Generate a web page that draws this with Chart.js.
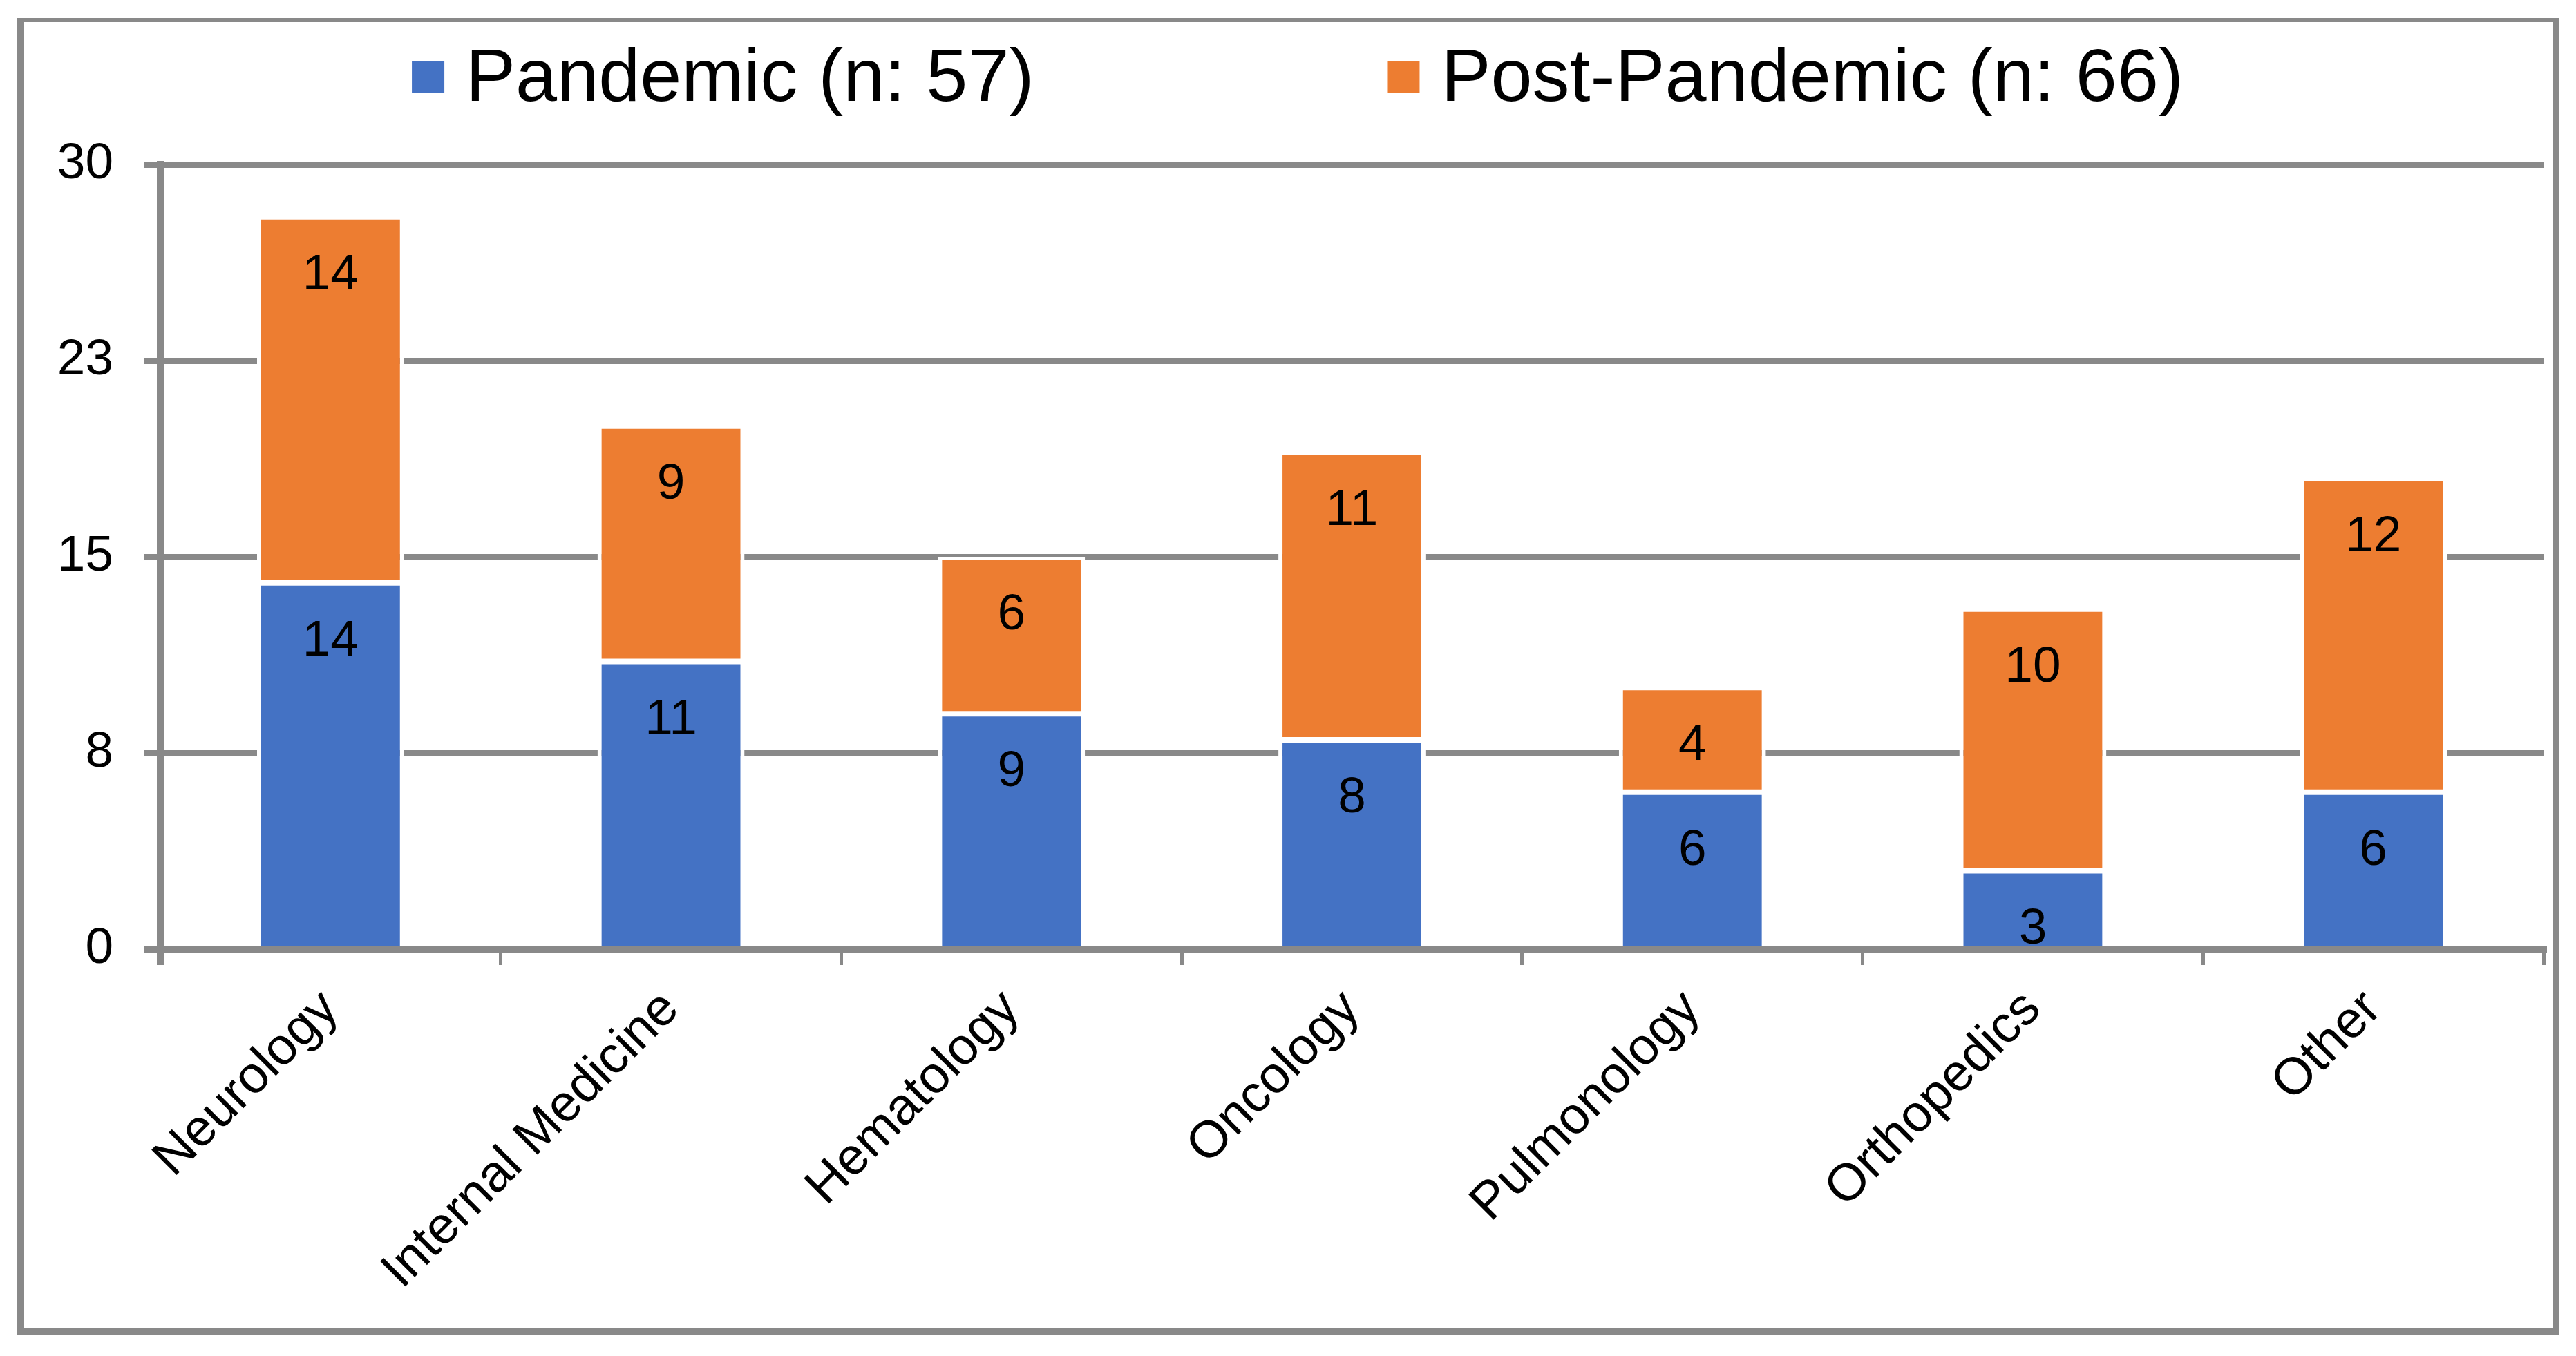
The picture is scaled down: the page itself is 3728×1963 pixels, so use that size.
<!DOCTYPE html>
<html>
<head>
<meta charset="utf-8">
<script src="https://cdn.jsdelivr.net/npm/chart.js@4"></script>
<style>
  body { margin: 0; background: #fff; }
  canvas { display: block; }
</style>
</head>
<body>
<canvas id="chart" width="3728" height="1963"></canvas>
<script>
const categories = ["Neurology", "Internal Medicine", "Hematology", "Oncology", "Pulmonology", "Orthopedics", "Other"];
const pandemic = [14, 11, 9, 8, 6, 3, 6];
const postPandemic = [14, 9, 6, 11, 4, 10, 12];
const seriesNames = ["Pandemic (n: 57)", "Post-Pandemic (n: 66)"];
const yTickValues = [0, 7.5, 15, 22.5, 30];
const yTickLabels = ["0", "8", "15", "23", "30"];

const FONT = "'Liberation Sans', Arial, sans-serif";
const GREY = "#898989";

// white page + grey frame round the whole chart
const frame = {
    id: "frame",
    beforeDraw(chart) {
        const ctx = chart.ctx;
        ctx.save();
        ctx.fillStyle = "#fff";
        ctx.fillRect(0, 0, chart.width, chart.height);
        ctx.fillStyle = GREY;
        ctx.fillRect(25, 26, 3678, 6);      // top
        ctx.fillRect(25, 26, 10, 1906);     // left
        ctx.fillRect(3694, 26, 9, 1906);    // right
        ctx.fillRect(25, 1922, 3678, 10);   // bottom
        ctx.restore();
    }
};

// legend drawn along the top, wide gap between the two entries
const topLegend = {
    id: "topLegend",
    afterDraw(chart) {
        const ctx = chart.ctx;
        ctx.save();
        ctx.font = "108px " + FONT;
        const box = 47, gap = 31, itemGap = 511;
        const ds = chart.data.datasets;
        const widths = ds.map(d => box + gap + ctx.measureText(d.label).width);
        const total = widths.reduce((a, b) => a + b, 0) + itemGap * (ds.length - 1);
        let x = chart.width / 2 + 14 - total / 2;
        ds.forEach((d, i) => {
            ctx.fillStyle = d.backgroundColor;
            ctx.fillRect(x, 88, box, box);
            ctx.fillStyle = "#000";
            ctx.textBaseline = "alphabetic";
            ctx.fillText(d.label, x + box + gap, 146);
            x += widths[i] + itemGap;
        });
        ctx.restore();
    }
};

// value written near the top of each segment
const valueLabels = {
    id: "valueLabels",
    afterDatasetsDraw(chart) {
        const ctx = chart.ctx;
        ctx.save();
        ctx.font = "73px " + FONT;
        ctx.fillStyle = "#000";
        ctx.textAlign = "center";
        ctx.textBaseline = "middle";
        chart.data.datasets.forEach((d, i) => {
            chart.getDatasetMeta(i).data.forEach((bar, j) => {
                ctx.fillText(d.data[j], bar.x, bar.y + 85);
            });
        });
        ctx.restore();
    }
};

const ctx = document.getElementById("chart").getContext("2d");
new Chart(ctx, {
    type: "bar",
    data: {
        labels: categories,
        datasets: [
            {
                label: seriesNames[0],
                data: pandemic,
                backgroundColor: "#4472C4",
                borderColor: "#fff",
                borderWidth: { top: 4, bottom: 0, left: 6, right: 6 },
                borderSkipped: "start"
            },
            {
                label: seriesNames[1],
                data: postPandemic,
                backgroundColor: "#ED7D31",
                borderColor: "#fff",
                borderWidth: { top: 4, bottom: 4, left: 6, right: 6 },
                borderSkipped: false
            }
        ]
    },
    options: {
        responsive: false,
        devicePixelRatio: 1,
        animation: false,
        barPercentage: 0.432,
        categoryPercentage: 1,
        layout: { padding: { top: 238, left: 30, right: 47, bottom: 40 } },
        plugins: {
            legend: { display: false },
            tooltip: { enabled: false }
        },
        scales: {
            x: {
                stacked: true,
                afterFit: s => { s.height = 549; },
                grid: {
                    offset: true,
                    drawOnChartArea: false,
                    drawTicks: true,
                    tickLength: 23,
                    lineWidth: c => (c.index === 0 ? 10 : 5),
                    color: GREY
                },
                border: { display: true, color: GREY, width: 10 },
                ticks: { font: { family: FONT, size: 75 }, color: "#000", maxRotation: 45, minRotation: 45, padding: 20 }
            },
            y: {
                stacked: true,
                min: 0,
                max: 30,
                afterFit: s => { s.width = 202; },
                afterBuildTicks: s => { s.ticks = yTickValues.map(v => ({ value: v })); },
                grid: { color: GREY, lineWidth: 9, tickLength: 23 },
                border: { display: true, color: GREY, width: 10 },
                ticks: {
                    font: { family: FONT, size: 73 },
                    color: "#000",
                    padding: 45,
                    callback: (v, i) => yTickLabels[i]
                }
            }
        }
    },
    plugins: [frame, topLegend, valueLabels]
});
</script>
</body>
</html>
